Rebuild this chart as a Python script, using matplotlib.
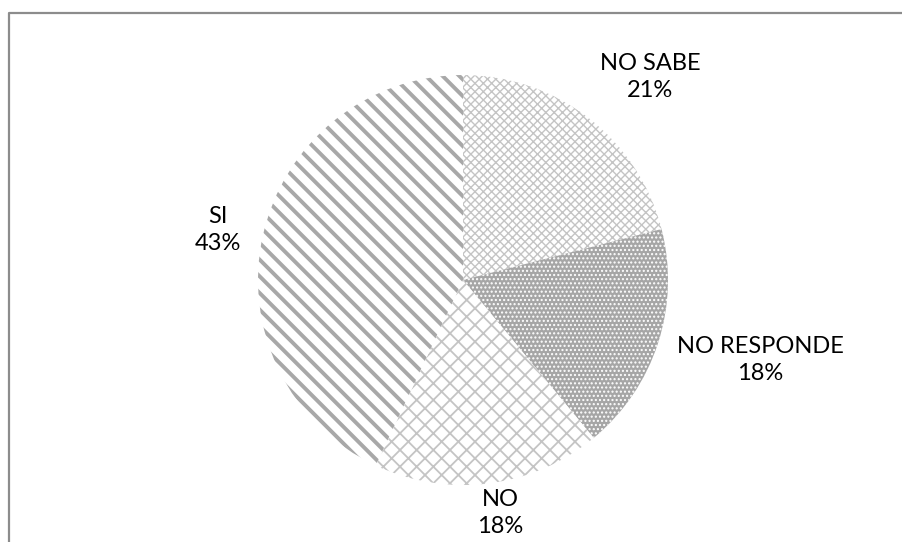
import matplotlib.pyplot as plt

labels = ["NO SABE", "NO RESPONDE", "NO", "SI"]
percent = [21, 18, 18, 43]

# look of each slice (pattern, hatch colour, fill)
hatches = ["xxxx", "....", "xx", "\\\\"]
hatch_colors = ["#c4c4c4", "#ffffff", "#c4c4c4", "#a8a8a8"]
face_colors = ["#ffffff", "#a6a6a6", "#ffffff", "#ffffff"]
hatch_widths = [1.0, 1.0, 1.3, 2.8]
# label centres in pixels from the top-left corner
label_pos = [(650, 77), (760, 360), (500, 513), (218, 230)]

W, H = 903, 542
fig = plt.figure(figsize=(W / 100, H / 100), dpi=100)
ax = fig.add_axes([0, 0, 1, 1])

cx, cy, r = 463, H - 280, 205
wedges, _ = ax.pie(percent, startangle=90, counterclock=False,
                   center=(cx, cy), radius=r, frame=True,
                   wedgeprops=dict(linewidth=0))
ax.set_xlim(0, W)
ax.set_ylim(0, H)
ax.axis("off")

for w, h, hc, fc, hw in zip(wedges, hatches, hatch_colors, face_colors, hatch_widths):
    w.set_facecolor(fc)
    w.set_edgecolor(hc)
    w.set_hatch(h)
    if hasattr(w, "set_hatch_linewidth"):
        w.set_hatch_linewidth(hw)
    else:
        w._hatch_linewidth = hw

for lab, p, (x, y) in zip(labels, percent, label_pos):
    ax.text(x, H - y, f"{lab}\n{p}%", ha="center", va="center",
            fontsize=17, family="Lato", linespacing=1.4, color="#000000")

# chart border (cut off at right and bottom)
ax.plot([9, 9, W + 5], [-5, H - 12.5, H - 12.5], color="#8c8c8c", lw=1.6,
        solid_capstyle="butt", clip_on=False)

fig.savefig("out.png", dpi=100)
